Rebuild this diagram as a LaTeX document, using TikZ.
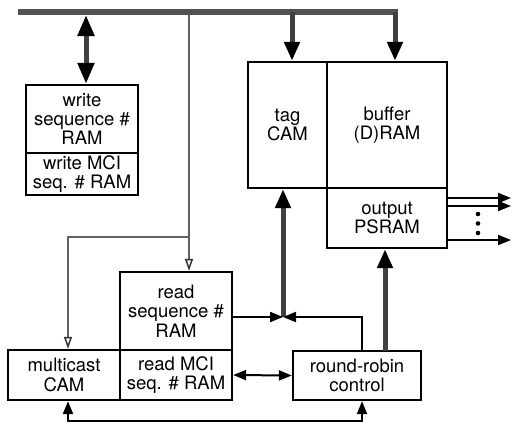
\documentclass[tikz,border=0pt]{standalone}
\usepackage{fontspec}
\setmainfont{TeX Gyre Heros}
\usetikzlibrary{arrows.meta,calc}
\begin{document}
\begin{tikzpicture}[x=1pt,y=-1pt,
  box/.style={draw, line width=2.3pt, inner sep=0pt, align=center, font=\fontsize{18.5}{19.3}\selectfont},
  bus/.style={line width=6pt, draw=black!68},
  fat/.style={line width=5pt, draw=black!75},
  fathead/.style={-{Triangle[length=19pt,width=15pt,color=black]}},
  fatboth/.style={{Triangle[length=21pt,width=16pt,color=black]}-{Triangle[length=21pt,width=16pt,color=black]}},
  sig/.style={line width=2pt, draw=black, -{Triangle[length=13pt,width=10pt]}},
  sigboth/.style={line width=2pt, draw=black, {Triangle[length=13pt,width=10pt]}-{Triangle[length=13pt,width=10pt]}},
  ctl/.style={line width=2pt, draw=black!62, -{Triangle[open,length=12pt,width=8pt,line width=1.5pt,color=black!80,fill=white]}}
]
\useasboundingbox (0,0) rectangle (513,426);

% boxes
\node[box, minimum width=112pt, minimum height=68pt] (wseq) at (82,119) {write\\sequence \#\\RAM};
\node[box, minimum width=112pt, minimum height=42pt] (wmci) at (82,174) {write MCI\\seq. \# RAM};
\node[box, minimum width=79pt, minimum height=126pt] (tag) at (287.5,125) {tag\\CAM};
\node[box, minimum width=120pt, minimum height=126pt] (buf) at (387,125) {buffer\\(D)RAM};
\node[box, minimum width=120pt, minimum height=60pt] (psram) at (387,218) {output\\PSRAM};
\node[box, minimum width=112pt, minimum height=78pt] (rseq) at (176,311) {read\\sequence \#\\RAM};
\node[box, minimum width=112pt, minimum height=50pt] (rmci) at (176,375) {read MCI\\seq. \# RAM};
\node[box, minimum width=112pt, minimum height=50pt] (mc) at (64,375) {multicast\\CAM};
\node[box, minimum width=128pt, minimum height=49pt] (rr) at (357,375.5) {round-robin\\control};

% bus
\coordinate (busL) at (18,12);
\coordinate (busR) at (398,12);
\draw[bus] (busL) -- (busR);

% bus connections
\coordinate (win) at (86,15);
\draw[fat, fatboth] (win) -- (win |- wseq.north);
\coordinate (tagin) at (292,12);
\draw[fat, fathead] (tagin) -- (tagin |- tag.north);
\coordinate (bufin) at (395,12);
\draw[fat, fathead] (bufin) -- (bufin |- buf.north);

% control lines
\coordinate (tp) at (189,14);
\draw[ctl] (tp) -- (tp |- rseq.north);
\coordinate (br) at (189,237);
\draw[ctl] (br) -| ($(mc.north)+(4,0)$);

% junction
\coordinate (J) at (283,317);
\draw[fat, fathead] (J) -- (J |- tag.south);
\draw[sig] (rseq.east |- J) -- (J);
\draw[sig] ($(rr.north)+(5,0)$) |- (J);

% round-robin to PSRAM
\coordinate (rrp) at (385,351);
\draw[fat, fathead] (rrp) -- (rrp |- psram.south);

% read MCI <-> round-robin
\draw[sigboth] (rmci.east) -- (rr.west);

% bottom loop
\draw[sigboth] ($(mc.south)+(4,0)$) -- ++(0,20) -| ($(rr.south)+(5,0)$);

% outputs
\coordinate (o1) at (511,198);
\coordinate (o2) at (511,206);
\coordinate (o3) at (511,240);
\draw[sig] (psram.east |- o1) -- (o1);
\draw[sig] (psram.east |- o2) -- (o2);
\draw[sig] (psram.east |- o3) -- (o3);
\fill (478,214) circle (2.3pt);
\fill (478,223.5) circle (2.3pt);
\fill (478,233) circle (2.3pt);
\end{tikzpicture}
\end{document}
